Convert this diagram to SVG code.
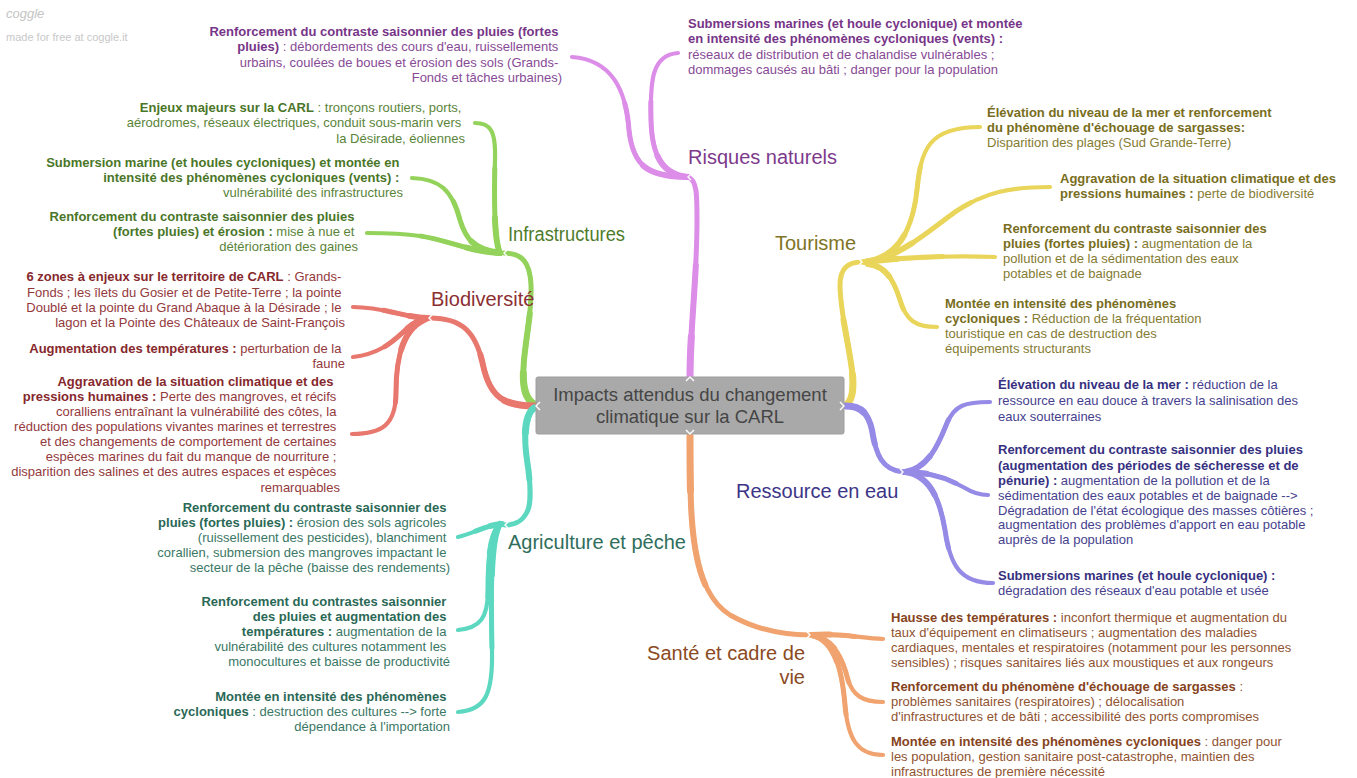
<svg xmlns="http://www.w3.org/2000/svg" width="1357" height="778" viewBox="0 0 1357 778">
<style>
text{font-family:"Liberation Sans",Arial,sans-serif}
.t{font-size:13px}
.b{font-weight:bold}
.lbl{font-size:20px}
.e{text-anchor:end}
.m{text-anchor:middle}
use{fill:none;stroke-linecap:round;stroke-linejoin:round}
.m1{stroke-width:5}
.m2{stroke-width:6;stroke-dasharray:55 300}
.m3{stroke-width:7;stroke-dasharray:20 300}
.l1{stroke-width:4.2}
.l2{stroke-width:5;stroke-dasharray:60 300}
.l3{stroke-width:6;stroke-dasharray:25 300}
.pu{stroke:#dc8de8}.gr{stroke:#93d35b}.sa{stroke:#e8776e}.te{stroke:#5dd8c0}.ye{stroke:#ead55b}.bl{stroke:#958ae6}.or{stroke:#f0a36e}
.notch{fill:none;stroke:#fff;stroke-width:1.4}
.tpu{fill:#874a96}.tgr{fill:#5a8439}.tsa{fill:#93393c}.tte{fill:#3a7765}.tye{fill:#857b32}.tbl{fill:#463f8e}.tor{fill:#915330}
.tpu .b{fill:#773588}.tgr .b{fill:#4a7628}.tsa .b{fill:#86282c}.tte .b{fill:#2a6856}.tye .b{fill:#786d20}.tbl .b{fill:#363081}.tor .b{fill:#85431c}
.lbl.tpu{fill:#7d3a8c}.lbl.tgr{fill:#4e7c2c}.lbl.tsa{fill:#8c2f33}.lbl.tte{fill:#2f6e5c}.lbl.tye{fill:#7f7426}.lbl.tbl{fill:#3c3587}.lbl.tor{fill:#8b4a23}
</style>
<defs>
<path id="pm" pathLength="100" d="M 690 377 C 690 330, 697 280, 697 220 C 697 195, 697 180, 688 177"/>
<path id="p1" pathLength="100" d="M 688 177 C 650 177, 633 168, 629 130 C 626 90, 612 60, 572 57"/>
<path id="p2" pathLength="100" d="M 688 177 C 665 175, 652 160, 651 120 C 650 80, 652 55, 678 53"/>
<path id="gm" pathLength="100" d="M 534 404 C 524 398, 522 385, 524 360 C 527 330, 532 310, 531 285 C 530 262, 522 253, 504 253"/>
<path id="g1" pathLength="100" d="M 500 253 C 494 240, 494 200, 495 160 C 496 130, 490 123, 475 123"/>
<path id="g2" pathLength="100" d="M 500 253 C 475 250, 466 240, 460 220 C 452 190, 440 179, 412 178"/>
<path id="g3" pathLength="100" d="M 500 253 C 470 252, 448 240, 420 236 C 400 233, 380 233, 367 233"/>
<path id="sm" pathLength="100" d="M 534 406 C 505 406, 490 398, 483 365 C 476 332, 462 318, 430 318"/>
<path id="s1" pathLength="100" d="M 428 318 C 405 318, 385 307, 353 307"/>
<path id="s2" pathLength="100" d="M 426 319 C 403 322, 397 352, 353 357"/>
<path id="s3" pathLength="100" d="M 424 320 C 402 330, 396 360, 396 392 C 396 425, 382 434, 352 434"/>
<path id="tm" pathLength="100" d="M 534 408 C 524 415, 524 440, 527 460 C 531 485, 531 505, 527 512 C 522 522, 515 525, 505 525"/>
<path id="t1" pathLength="100" d="M 502 524 C 485 525, 475 533, 458 537"/>
<path id="t2" pathLength="100" d="M 500 524 C 490 535, 488 560, 488 590 C 488 618, 480 628, 458 630"/>
<path id="t3" pathLength="100" d="M 500 524 C 490 540, 491 600, 492 650 C 493 695, 485 710, 458 712"/>
<path id="ym" pathLength="100" d="M 846 405 C 853 400, 854 385, 852 370 C 848 340, 840 310, 840 285 C 840 268, 848 262, 862 262"/>
<path id="y1" pathLength="100" d="M 865 262 C 895 258, 912 235, 917 190 C 921 150, 928 127, 980 127"/>
<path id="y2" pathLength="100" d="M 865 262 C 900 258, 930 230, 955 212 C 985 192, 1010 187, 1050 187"/>
<path id="y3" pathLength="100" d="M 865 262 C 900 258, 940 255, 995 257"/>
<path id="y4" pathLength="100" d="M 868 264 C 885 266, 893 278, 900 300 C 906 320, 915 327, 937 327"/>
<path id="bm" pathLength="100" d="M 846 406 C 860 406, 868 412, 872 430 C 876 455, 882 470, 903 472"/>
<path id="b1" pathLength="100" d="M 905 472 C 930 468, 940 440, 947 423 C 955 405, 965 402, 990 402"/>
<path id="b2" pathLength="100" d="M 905 472 C 935 472, 950 480, 965 488 C 973 493, 980 495, 988 495"/>
<path id="b3" pathLength="100" d="M 905 472 C 930 475, 940 500, 945 530 C 950 565, 960 583, 993 583"/>
<path id="om" pathLength="100" d="M 690 436 C 690 520, 690 590, 730 615 C 760 632, 790 635, 810 635"/>
<path id="o1" pathLength="100" d="M 812 635 C 840 633, 860 638, 883 639"/>
<path id="o2" pathLength="100" d="M 812 635 C 835 640, 843 660, 848 680 C 853 695, 862 702, 883 702"/>
<path id="o3" pathLength="100" d="M 812 635 C 835 640, 842 670, 845 705 C 848 740, 858 755, 883 755"/>
</defs>

<g id="logo">
<text x="6" y="18" font-size="13" font-style="italic" fill="#c4c4c4">coggle</text>
<text x="6" y="41" font-size="11" fill="#c8c8c8">made for free at coggle.it</text>
</g>

<g id="connectors">
<g class="pu">
<use href="#pm" class="m1"/><use href="#pm" class="m2"/><use href="#pm" class="m3"/>
<use href="#p1" class="l1"/><use href="#p1" class="l2"/><use href="#p1" class="l3"/>
<use href="#p2" class="l1"/><use href="#p2" class="l2"/><use href="#p2" class="l3"/>
</g>
<g class="gr">
<use href="#gm" class="m1"/><use href="#gm" class="m2"/><use href="#gm" class="m3"/>
<use href="#g1" class="l1"/><use href="#g1" class="l2"/><use href="#g1" class="l3"/>
<use href="#g2" class="l1"/><use href="#g2" class="l2"/><use href="#g2" class="l3"/>
<use href="#g3" class="l1"/><use href="#g3" class="l2"/><use href="#g3" class="l3"/>
</g>
<g class="sa">
<use href="#sm" class="m1"/><use href="#sm" class="m2"/><use href="#sm" class="m3"/>
<use href="#s1" class="l1"/><use href="#s1" class="l2"/><use href="#s1" class="l3"/>
<use href="#s2" class="l1"/><use href="#s2" class="l2"/><use href="#s2" class="l3"/>
<use href="#s3" class="l1"/><use href="#s3" class="l2"/><use href="#s3" class="l3"/>
</g>
<g class="te">
<use href="#tm" class="m1"/><use href="#tm" class="m2"/><use href="#tm" class="m3"/>
<use href="#t1" class="l1"/><use href="#t1" class="l2"/><use href="#t1" class="l3"/>
<use href="#t2" class="l1"/><use href="#t2" class="l2"/><use href="#t2" class="l3"/>
<use href="#t3" class="l1"/><use href="#t3" class="l2"/><use href="#t3" class="l3"/>
</g>
<g class="ye">
<use href="#ym" class="m1"/><use href="#ym" class="m2"/><use href="#ym" class="m3"/>
<use href="#y1" class="l1"/><use href="#y1" class="l2"/><use href="#y1" class="l3"/>
<use href="#y2" class="l1"/><use href="#y2" class="l2"/><use href="#y2" class="l3"/>
<use href="#y3" class="l1"/><use href="#y3" class="l2"/><use href="#y3" class="l3"/>
<use href="#y4" class="l1"/><use href="#y4" class="l2"/><use href="#y4" class="l3"/>
</g>
<g class="bl">
<use href="#bm" class="m1"/><use href="#bm" class="m2"/><use href="#bm" class="m3"/>
<use href="#b1" class="l1"/><use href="#b1" class="l2"/><use href="#b1" class="l3"/>
<use href="#b2" class="l1"/><use href="#b2" class="l2"/><use href="#b2" class="l3"/>
<use href="#b3" class="l1"/><use href="#b3" class="l2"/><use href="#b3" class="l3"/>
</g>
<g class="or">
<use href="#om" class="m1"/><use href="#om" class="m2"/><use href="#om" class="m3"/>
<use href="#o1" class="l1"/><use href="#o1" class="l2"/><use href="#o1" class="l3"/>
<use href="#o2" class="l1"/><use href="#o2" class="l2"/><use href="#o2" class="l3"/>
<use href="#o3" class="l1"/><use href="#o3" class="l2"/><use href="#o3" class="l3"/>
</g>
</g>

<g id="center">
<rect x="536" y="377" width="308" height="57" rx="2" fill="#a9a9a9" stroke="#9e9e9e" stroke-width="1"/>
<text class="m" x="690" y="401" font-size="18.5" fill="#454545">Impacts attendus du changement</text>
<text class="m" x="690" y="423" font-size="18.5" fill="#454545">climatique sur la CARL</text>
</g>

<g id="notches">
<polyline class="notch" points="686,381 690,377 694,381"/>
<polyline class="notch" points="686,430 690,434 694,430"/>
<polyline class="notch" points="540,402 536,406 540,410"/>
<polyline class="notch" points="840,402 844,406 840,410"/>
<polyline class="notch" points="691,174 688,177 691,180"/>
<polyline class="notch" points="507,250 504,253 507,256"/>
<polyline class="notch" points="432,315 429,318 432,321"/>
<polyline class="notch" points="859,259 862,262 859,265"/>
<polyline class="notch" points="900,469 903,472 900,475"/>
<polyline class="notch" points="508,522 505,525 508,528"/>
<polyline class="notch" points="807,632 810,635 807,638"/>
</g>

<g id="risques">
<text class="lbl tpu" x="688" y="164">Risques naturels</text>
<text class="t tpu e">
<tspan x="562" y="36" class="b">Renforcement du contraste saisonnier des pluies (fortes</tspan>
<tspan x="562" y="51"><tspan class="b">pluies)</tspan> : débordements des cours d'eau, ruissellements</tspan>
<tspan x="562" y="67">urbains, coulées de boues et érosion des sols (Grands-</tspan>
<tspan x="562" y="82">Fonds et tâches urbaines)</tspan>
</text>
<text class="t tpu">
<tspan x="688" y="28" class="b">Submersions marines (et houle cyclonique) et montée</tspan>
<tspan x="688" y="43" class="b">en intensité des phénomènes cycloniques (vents) :</tspan>
<tspan x="688" y="59">réseaux de distribution et de chalandise vulnérables ;</tspan>
<tspan x="688" y="74">dommages causés au bâti ; danger pour la population</tspan>
</text>
</g>

<g id="infrastructures">
<text class="lbl tgr" x="508" y="241" textLength="117" lengthAdjust="spacingAndGlyphs">Infrastructures</text>
<text class="t tgr e">
<tspan x="465" y="112"><tspan class="b">Enjeux majeurs sur la CARL</tspan> : tronçons routiers, ports,</tspan>
<tspan x="465" y="127">aérodromes, réseaux électriques, conduit sous-marin vers</tspan>
<tspan x="465" y="143">la Désirade, éoliennes</tspan>
</text>
<text class="t tgr e">
<tspan x="403" y="167" class="b">Submersion marine (et houles cycloniques) et montée en</tspan>
<tspan x="403" y="182" class="b">intensité des phénomènes cycloniques (vents) :</tspan>
<tspan x="403" y="197">vulnérabilité des infrastructures</tspan>
</text>
<text class="t tgr e">
<tspan x="358" y="221" class="b">Renforcement du contraste saisonnier des pluies</tspan>
<tspan x="358" y="236"><tspan class="b">(fortes pluies) et érosion :</tspan> mise à nue et</tspan>
<tspan x="358" y="251">détérioration des gaines</tspan>
</text>
</g>

<g id="biodiversite">
<text class="lbl tsa" x="431" y="306">Biodiversité</text>
<text class="t tsa e">
<tspan x="345" y="281"><tspan class="b">6 zones à enjeux sur le territoire de CARL</tspan> : Grands-</tspan>
<tspan x="345" y="297">Fonds ; les îlets du Gosier et de Petite-Terre ; la pointe</tspan>
<tspan x="345" y="312">Doublé et la pointe du Grand Abaque à la Désirade ; le</tspan>
<tspan x="345" y="327">lagon et la Pointe des Châteaux de Saint-François</tspan>
</text>
<text class="t tsa e">
<tspan x="345" y="353"><tspan class="b">Augmentation des températures :</tspan> perturbation de la</tspan>
<tspan x="345" y="368">faune</tspan>
</text>
<text class="t tsa e">
<tspan x="337" y="386" class="b">Aggravation de la situation climatique et des</tspan>
<tspan x="340" y="401"><tspan class="b">pressions humaines :</tspan> Perte des mangroves, et récifs</tspan>
<tspan x="340" y="416">coralliens entraînant la vulnérabilité des côtes, la</tspan>
<tspan x="340" y="431">réduction des populations vivantes marines et terrestres</tspan>
<tspan x="340" y="446">et des changements de comportement de certaines</tspan>
<tspan x="340" y="461">espèces marines du fait du manque de nourriture ;</tspan>
<tspan x="340" y="476">disparition des salines et des autres espaces et espèces</tspan>
<tspan x="340" y="492">remarquables</tspan>
</text>
</g>

<g id="agriculture">
<text class="lbl tte" x="508" y="549">Agriculture et pêche</text>
<text class="t tte e">
<tspan x="450" y="512" class="b">Renforcement du contraste saisonnier des</tspan>
<tspan x="450" y="527"><tspan class="b">pluies (fortes pluies) :</tspan> érosion des sols agricoles</tspan>
<tspan x="450" y="542">(ruissellement des pesticides), blanchiment</tspan>
<tspan x="450" y="557">corallien, submersion des mangroves impactant le</tspan>
<tspan x="450" y="572">secteur de la pêche (baisse des rendements)</tspan>
</text>
<text class="t tte e">
<tspan x="450" y="606" class="b">Renforcement du contrastes saisonnier</tspan>
<tspan x="450" y="621" class="b">des pluies et augmentation des</tspan>
<tspan x="450" y="636"><tspan class="b">températures :</tspan> augmentation de la</tspan>
<tspan x="450" y="651">vulnérabilité des cultures notamment les</tspan>
<tspan x="450" y="666">monocultures et baisse de productivité</tspan>
</text>
<text class="t tte e">
<tspan x="450" y="701" class="b">Montée en intensité des phénomènes</tspan>
<tspan x="450" y="716"><tspan class="b">cycloniques</tspan> : destruction des cultures --&gt; forte</tspan>
<tspan x="450" y="731">dépendance à l'importation</tspan>
</text>
</g>

<g id="tourisme">
<text class="lbl tye" x="775" y="250">Tourisme</text>
<text class="t tye">
<tspan x="987" y="117" class="b">Élévation du niveau de la mer et renforcement</tspan>
<tspan x="987" y="132" class="b">du phénomène d'échouage de sargasses:</tspan>
<tspan x="987" y="147">Disparition des plages (Sud Grande-Terre)</tspan>
</text>
<text class="t tye">
<tspan x="1060" y="183" class="b">Aggravation de la situation climatique et des</tspan>
<tspan x="1060" y="198"><tspan class="b">pressions humaines :</tspan> perte de biodiversité</tspan>
</text>
<text class="t tye">
<tspan x="1003" y="233" class="b">Renforcement du contraste saisonnier des</tspan>
<tspan x="1003" y="248"><tspan class="b">pluies (fortes pluies) :</tspan> augmentation de la</tspan>
<tspan x="1003" y="263">pollution et de la sédimentation des eaux</tspan>
<tspan x="1003" y="278">potables et de baignade</tspan>
</text>
<text class="t tye">
<tspan x="945" y="308" class="b">Montée en intensité des phénomènes</tspan>
<tspan x="945" y="323"><tspan class="b">cycloniques :</tspan> Réduction de la fréquentation</tspan>
<tspan x="945" y="338">touristique en cas de destruction des</tspan>
<tspan x="945" y="353">équipements structurants</tspan>
</text>
</g>

<g id="ressource">
<text class="lbl tbl" x="736" y="498">Ressource en eau</text>
<text class="t tbl">
<tspan x="998" y="389"><tspan class="b">Élévation du niveau de la mer :</tspan> réduction de la</tspan>
<tspan x="998" y="405">ressource en eau douce à travers la salinisation des</tspan>
<tspan x="998" y="421">eaux souterraines</tspan>
</text>
<text class="t tbl">
<tspan x="998" y="454" class="b">Renforcement du contraste saisonnier des pluies</tspan>
<tspan x="998" y="470" class="b">(augmentation des périodes de sécheresse et de</tspan>
<tspan x="998" y="485"><tspan class="b">pénurie) :</tspan> augmentation de la pollution et de la</tspan>
<tspan x="998" y="500">sédimentation des eaux potables et de baignade --&gt;</tspan>
<tspan x="998" y="515">Dégradation de l'état écologique des masses côtières ;</tspan>
<tspan x="998" y="529">augmentation des problèmes d'apport en eau potable</tspan>
<tspan x="998" y="544">auprès de la population</tspan>
</text>
<text class="t tbl">
<tspan x="998" y="580" class="b">Submersions marines (et houle cyclonique) :</tspan>
<tspan x="998" y="595">dégradation des réseaux d'eau potable et usée</tspan>
</text>
</g>

<g id="sante">
<text class="lbl tor e"><tspan x="805" y="660">Santé et cadre de</tspan><tspan x="805" y="684">vie</tspan></text>
<text class="t tor">
<tspan x="891" y="622"><tspan class="b">Hausse des températures :</tspan> inconfort thermique et augmentation du</tspan>
<tspan x="891" y="637">taux d'équipement en climatiseurs ; augmentation des maladies</tspan>
<tspan x="891" y="652">cardiaques, mentales et respiratoires (notamment pour les personnes</tspan>
<tspan x="891" y="667">sensibles) ; risques sanitaires liés aux moustiques et aux rongeurs</tspan>
</text>
<text class="t tor">
<tspan x="891" y="691"><tspan class="b">Renforcement du phénomène d'échouage de sargasses</tspan> :</tspan>
<tspan x="891" y="706">problèmes sanitaires (respiratoires) ; délocalisation</tspan>
<tspan x="891" y="721">d'infrastructures et de bâti ; accessibilité des ports compromises</tspan>
</text>
<text class="t tor">
<tspan x="891" y="746"><tspan class="b">Montée en intensité des phénomènes cycloniques</tspan> : danger pour</tspan>
<tspan x="891" y="761">les population, gestion sanitaire post-catastrophe, maintien des</tspan>
<tspan x="891" y="776">infrastructures de première nécessité</tspan>
</text>
</g>
</svg>
